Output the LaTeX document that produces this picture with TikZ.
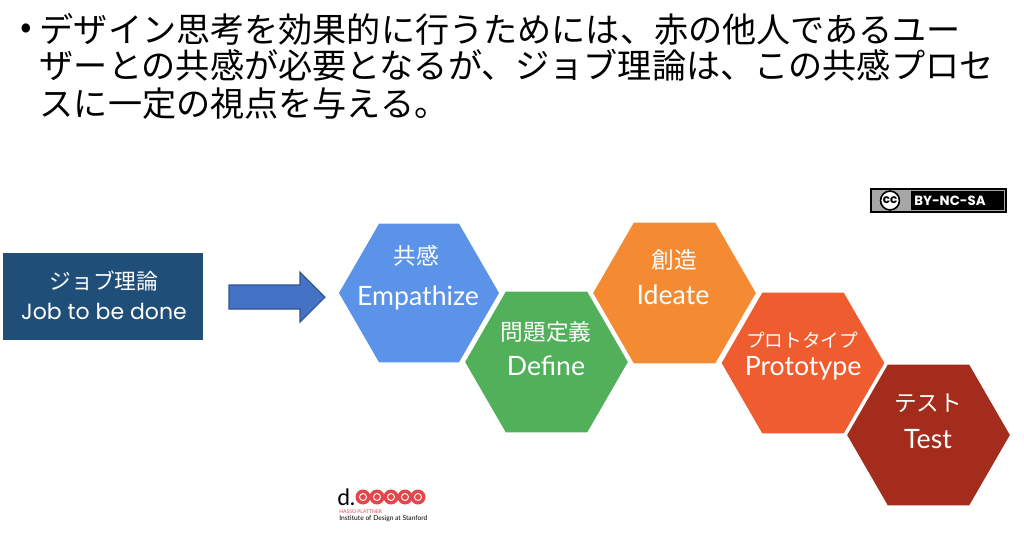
\documentclass[tikz,border=0pt]{standalone}
\usepackage{fontspec}
\setmainfont{Lato}
\newfontfamily\jpfont{Noto Sans CJK JP}
\newfontfamily\roundfont{Poppins}
\usetikzlibrary{shapes.geometric}
\definecolor{jobblue}{HTML}{1F4E79}
\definecolor{arrowblue}{HTML}{4472C4}
\definecolor{arrowline}{HTML}{2F528F}
\definecolor{hexblue}{HTML}{5B93E8}
\definecolor{hexgreen}{HTML}{52B05A}
\definecolor{hexorange}{HTML}{F48B32}
\definecolor{hexred}{HTML}{EE5C2F}
\definecolor{hexbrown}{HTML}{A32C1C}
\definecolor{logored}{HTML}{E2474B}
\tikzset{
  hexa/.style={regular polygon,regular polygon sides=6,
    minimum size=122pt,inner sep=0pt,outer sep=0pt},
  titleline/.style={anchor=west,inner sep=0pt,font=\jpfont\fontsize{25.6}{25.6}\selectfont},
  jplabel/.style={text=white,inner sep=0pt,font=\jpfont\fontsize{17}{17}\selectfont},
  enlabel/.style={text=white,inner sep=0pt,font=\fontsize{20}{20}\selectfont}
}
\begin{document}
\begin{tikzpicture}[x=0.75pt,y=-0.75pt]
    \useasboundingbox (0,0) rectangle (1024,537);
    % title
    \node [titleline] (bullet) at (20,31) {•};
    \node [titleline] (lineone) at (39.5,29) {デザイン思考を効果的に行うためには、赤の他人であるユー};
    \node [titleline] (linetwo) at (39.5,65.5) {ザーとの共感が必要となるが、ジョブ理論は、この共感プロセ};
    \node [titleline] (linethree) at (39.5,103.5) {スに一定の視点を与える。};
    % left box and arrow
    \node [fill=jobblue,minimum width=150pt,minimum height=65pt,inner sep=0pt] (job) at (103,296.5) {};
    \node [jplabel,font=\jpfont\fontsize{16.3}{16.3}\selectfont] (jobjp) at (104,281.5) {ジョブ理論};
    \node [text=white,inner sep=0pt,font=\roundfont\fontsize{16.5}{16.5}\selectfont] (joben) at (104,311) {Job to be done};
    \draw [fill=arrowblue,draw=arrowline,line width=0.8pt] (229,285) -- (300,285) -- (300,272)
      -- (325,297) -- (300,322) -- (300,309) -- (229,309) -- cycle;
    % hexagons
    \node [hexa,fill=hexblue,minimum size=120pt] (empathize) at (419,293) {};
    \node [hexa,fill=hexgreen] (define) at (546.5,362) {};
    \node [hexa,fill=hexorange] (ideate) at (674.5,293) {};
    \node [hexa,fill=hexred] (prototype) at (803,363) {};
    \node [hexa,fill=hexbrown] (test) at (928.5,435) {};
    \node [jplabel] (empathizejp) at (416,255.5) {共感};
    \node [enlabel] (empathizeen) at (418,297.5) {Empathize};
    \node [jplabel] (definejp) at (546,332) {問題定義};
    \node [enlabel] (defineen) at (546,366) {Define};
    \node [jplabel] (ideatejp) at (674,260) {創造};
    \node [enlabel] (ideateen) at (673,295) {Ideate};
    \node [jplabel,font=\jpfont\fontsize{14}{14}\selectfont] (prototypejp) at (802,340) {プロトタイプ};
    \node [enlabel] (prototypeen) at (803,368) {Prototype};
    \node [jplabel] (testjp) at (928,403) {テスト};
    \node [enlabel] (testen) at (928,439) {Test};
    % licence badge
    \fill (870,188) rectangle (1007,213);
    \draw [gray!70,line width=0.6pt] (872.5,190.5) rectangle (1004.5,210.5);
    \fill [gray!70] (873,191) rectangle (911,210);
    \fill [white] (890,200.5) circle (10.5);
    \draw [line width=1.3pt] (890,200.5) circle (9.5);
    \node [inner sep=0pt,font=\roundfont\bfseries\fontsize{9}{9}\selectfont] (ccmark) at (890,200) {cc};
    \node [text=white,inner sep=0pt,anchor=west,font=\roundfont\bfseries\fontsize{10}{10}\selectfont] (cctext) at (914,200.5) {BY-NC-SA};
    % logo
    \node [inner sep=0pt,anchor=west,font=\fontsize{17}{17}\selectfont] (logod) at (337,497) {d.};
    \foreach \cx in {363,377,391,405,418} {
      \fill [logored] (\cx,497) circle (7.5);
      \draw [white,line width=0.7pt] (\cx,497) circle (3.5);
    }
    \node [text=logored,inner sep=0pt,anchor=west,font=\fontsize{3.8}{3.8}\selectfont] (logoname) at (339,512) {HASSO PLATTNER};
    \node [inner sep=0pt,anchor=west,font=\fontsize{5}{5}\selectfont] (logoinst) at (339,519) {Institute of Design at Stanford};
  \end{tikzpicture}
\end{document}
